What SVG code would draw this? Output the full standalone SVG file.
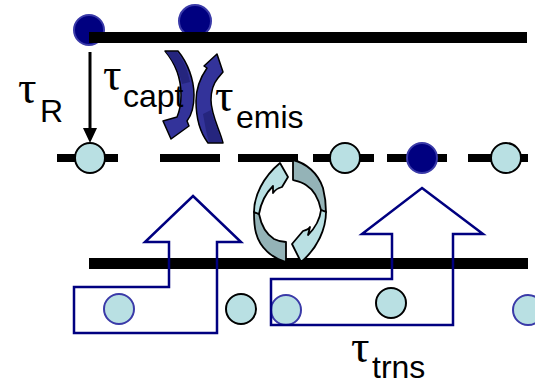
<svg xmlns="http://www.w3.org/2000/svg" width="535" height="384" viewBox="0 0 535 384">
  <style>
    .bar { fill: #000000; }
    .level { stroke: #000000; stroke-width: 8; fill: none; }
    .electron { fill: #000080; stroke: #3a3aa8; stroke-width: 2; }
    .empty { fill: #b9e0e3; stroke: #000000; stroke-width: 2; }
    .empty-b { fill: #b9e0e3; stroke: #3a3aa8; stroke-width: 2; }
    .block { fill: none; stroke: #000080; stroke-width: 2.5; stroke-linejoin: miter; }
    .curve { fill: #33339a; stroke: #000000; stroke-width: 1.5; stroke-linejoin: round; }
    .curve-back { fill: #25257e; stroke: none; }
    .cyc-light { fill: #b9e0e3; stroke: #000000; stroke-width: 1.8; stroke-linejoin: round; }
    .cyc-dark { fill: #94b3b7; stroke: #000000; stroke-width: 1.8; stroke-linejoin: round; }
    .tau { font-family: "Liberation Serif", "Times New Roman", serif; font-size: 46px; fill: #000000; }
    .sub { font-family: "Liberation Sans", Arial, sans-serif; font-size: 32px; fill: #000000; }
  </style>

  <!-- electrons above the upper band -->
  <g id="electron-top-1"><circle class="electron" cx="89" cy="30" r="15"/></g>
  <g id="electron-top-2"><circle class="electron" cx="195" cy="21" r="16"/></g>

  <!-- upper band edge -->
  <g id="upper-band"><rect class="bar" x="89" y="32" width="438" height="11"/></g>

  <!-- trap level (dashed) -->
  <g id="trap-level">
    <path class="level" d="M57,158 H118 M160,158 H220 M238,158 H298 M313,158 H374 M387,158 H447 M468,158 H528"/>
  </g>

  <!-- lower band edge -->
  <g id="lower-band"><rect class="bar" x="89" y="258" width="439" height="11"/></g>

  <!-- trap states -->
  <g id="trap-1"><circle class="empty" cx="90" cy="158" r="15"/></g>
  <g id="trap-2"><circle class="empty" cx="345" cy="158" r="15"/></g>
  <g id="trap-3"><circle class="electron" cx="422" cy="158" r="15"/></g>
  <g id="trap-4"><circle class="empty" cx="506" cy="158" r="15"/></g>

  <!-- carriers below the lower band -->
  <g id="carrier-1"><circle class="empty-b" cx="119" cy="309" r="15"/></g>
  <g id="carrier-2"><circle class="empty" cx="241" cy="309" r="15"/></g>
  <g id="carrier-3"><circle class="empty-b" cx="286" cy="310" r="15"/></g>
  <g id="carrier-4"><circle class="empty" cx="391" cy="303" r="15"/></g>
  <g id="carrier-5"><circle class="empty-b" cx="528" cy="310" r="15"/></g>

  <!-- transport block arrows -->
  <g id="transport-left">
    <path class="block" d="M193,196 L241,242 L217,242 L217,333 L74,333 L74,287 L169,287 L169,242 L145,242 Z"/>
  </g>
  <g id="transport-right">
    <path class="block" d="M422,188 L483,234 L453,234 L453,325 L271,325 L271,279 L392,279 L392,234 L362,234 Z"/>
  </g>

  <!-- capture arrow -->
  <g id="capture-arrow">
    <path class="curve" d="M165,51 L178,51 C188,63 194,80 194,95 C194,107 191,116 187,121 L189,126 L171,139 L163,121 L177,117 C180,110 181,103 181,95 C181,80 176,64 165,51 Z"/>
    <path class="curve-back" d="M166,52 L177,52 C184,61 188,71 190,82 L182,84 C180,73 174,62 166,52 Z"/>
  </g>

  <!-- emission arrow -->
  <g id="emission-arrow">
    <path class="curve" d="M208,143 L223,143 C220,130 211,115 211,100 C211,92 213,84 218,78 L223,72 L217,54 L204,66 L207,68 C200,78 196,90 196,101 C196,118 199,131 208,143 Z"/>
    <path class="curve-back" d="M209,142 L222,142 C219,131 213,121 211,110 L203,114 C205,124 206,133 209,142 Z"/>
  </g>

  <!-- exchange cycle between trap level and lower band -->
  <g id="exchange-cycle">
    <!-- left ribbon: dark lower part -->
    <path class="cyc-dark" d="M286,262 C272,258 260,248 256,233 C254,226 254,219 254,212 L259,214 C261,224 266,234 274,239 C278,241 282,242 286,242 Z"/>
    <!-- left ribbon: light upper part with head -->
    <path class="cyc-light" d="M254,212 C254,196 263,177 280,163 L288,177 L282,187 C278,188 275,190 273,193 L273,186 C266,193 261,202 259,214 Z"/>
    <!-- right ribbon: dark upper part -->
    <path class="cyc-dark" d="M293,160 C306,163 318,173 323,188 C325,196 326,204 326,212 L321,210 C319,200 314,190 306,185 C302,182 297,181 293,180 Z"/>
    <!-- right ribbon: light lower part with head -->
    <path class="cyc-light" d="M326,212 C326,228 318,248 301,262 L292,244 L303,231 C307,230 309,229 310,227 L308,235 C315,228 320,219 321,210 Z"/>
  </g>

  <!-- labels -->
  <g id="label-tau-r">
    <text class="tau" x="18" y="103">τ</text>
    <text class="sub" x="40" y="122">R</text>
  </g>
  <g id="label-tau-capt">
    <text class="tau" x="103" y="90">τ</text>
    <text class="sub" x="123" y="107">capt</text>
  </g>
  <g id="label-tau-emis">
    <text class="tau" x="215" y="111">τ</text>
    <text class="sub" x="236" y="128">emis</text>
  </g>
  <g id="label-tau-trns">
    <text class="tau" x="351" y="362">τ</text>
    <text class="sub" x="372" y="378">trns</text>
  </g>

  <!-- recombination arrow -->
  <g id="recombination-arrow">
    <line x1="90" y1="52" x2="90" y2="130" stroke="#000000" stroke-width="3"/>
    <path d="M83,128 L97,128 L90,143 Z" fill="#000000"/>
  </g>
</svg>
